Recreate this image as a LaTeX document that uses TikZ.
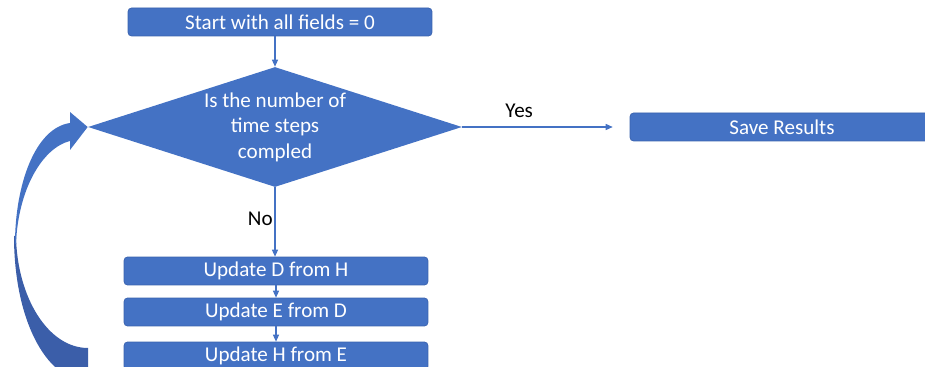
\documentclass[tikz,border=0pt]{standalone}
\usepackage{fontspec}
\setmainfont{Carlito}
\usetikzlibrary{shapes.geometric,arrows.meta,positioning}
\definecolor{boxblue}{HTML}{4472C4}
\definecolor{boxedge}{HTML}{3A62AE}
\definecolor{backblue}{HTML}{3B5EA9}

\tikzset{
  stepbox/.style={rectangle,rounded corners=2pt,draw=boxedge,line width=0.4pt,fill=boxblue,text=white,
    minimum width=6.08cm,minimum height=0.56cm,inner sep=0pt,font=\fontsize{12}{14}\selectfont},
  decision/.style={diamond,fill=boxblue,text=white,align=center,aspect=3.1,inner sep=0pt,
    minimum width=7.48cm,minimum height=2.4cm,font=\fontsize{12}{14.5}\selectfont},
  flow/.style={draw=boxblue,line width=0.6pt,-{Triangle[length=4pt,width=3.5pt]}},
  answer/.style={text=black,inner sep=1pt,font=\fontsize{12}{14}\selectfont}
}

\begin{document}
\begin{tikzpicture}[x=0.02cm,y=-0.02cm]
\clip (0,0) rectangle (925,367);
\node[stepbox] (start) at (280,22) {Start with all fields = 0};
\node[decision] (check) at (275,127) {Is the number of\\time steps\\compled};
\node[stepbox] (save) at (782,127) {Save Results};
\node[stepbox] (upd1) at (276,271) {Update D from H};
\node[stepbox] (upd2) at (276,312) {Update E from D};
\node[stepbox] (upd3) at (276,356) {Update H from E};

\draw[flow] (start.south -| check.north) -- (check.north);
\draw[flow,shorten >=0.34cm] (check.east) -- node[answer,pos=0.34,above=0.14cm] {Yes} (save.west);
\draw[flow] (check.south) -- node[answer,pos=0.46,left] {No} (check.south |- upd1.north);
\draw[flow] (upd1.south) -- (upd2.north);
\draw[flow] (upd2.south) -- (upd3.north);

% loop back to the decision
\fill[backblue] (16,236) .. controls (17,297) and (48,348) .. (88,348) -- (88,382)
  .. controls (45,380) and (14,318) .. (14,236) -- cycle;
\fill[boxblue] (15,244) .. controls (15,185) and (35,128) .. (70,123) -- (70,112) -- (check.west)
  -- (70,150) -- (70,141) .. controls (42,148) and (18,190) .. (16,244) -- cycle;
\end{tikzpicture}
\end{document}
